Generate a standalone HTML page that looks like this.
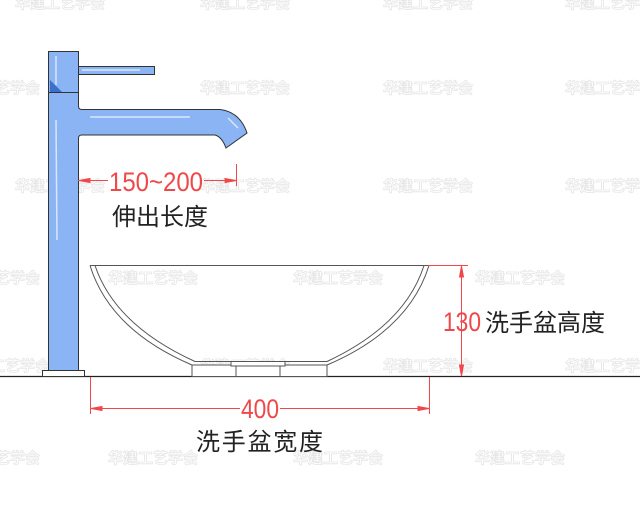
<!DOCTYPE html>
<html><head><meta charset="utf-8"><style>
html,body{margin:0;padding:0;background:#fff;}
svg{display:block}
.wm{font-family:"Noto Sans CJK SC",sans-serif;font-size:15px;font-weight:bold;fill:#fff;stroke:#e6e6e6;stroke-width:0.8}
.cn{font-family:"Liberation Sans","Noto Sans CJK SC",sans-serif;font-size:24px;fill:#222}
.num{font-family:"Liberation Sans",sans-serif;font-size:27px;fill:#f0474a}
</style></head><body>
<svg width="640" height="505" viewBox="0 0 640 505" xmlns="http://www.w3.org/2000/svg">
<g class="wm">
<text x="200" y="8">华建工艺学会</text><text x="383" y="8">华建工艺学会</text><text x="15" y="8">华建工艺学会</text><text x="565" y="8">华建工艺学会</text>
<text x="-50" y="93">华建工艺学会</text><text x="200" y="93">华建工艺学会</text><text x="383" y="93">华建工艺学会</text><text x="565" y="93">华建工艺学会</text>
<text x="15" y="191">华建工艺学会</text><text x="200" y="191">华建工艺学会</text><text x="383" y="191">华建工艺学会</text><text x="565" y="191">华建工艺学会</text>
<text x="-50" y="283">华建工艺学会</text><text x="108" y="283">华建工艺学会</text><text x="293" y="283">华建工艺学会</text><text x="475" y="283">华建工艺学会</text>
<text x="-40" y="371">华建工艺学会</text><text x="200" y="371">华建工艺学会</text><text x="383" y="371">华建工艺学会</text><text x="565" y="371">华建工艺学会</text>
<text x="-50" y="463">华建工艺学会</text><text x="108" y="463">华建工艺学会</text><text x="293" y="463">华建工艺学会</text><text x="475" y="463">华建工艺学会</text>
</g>
<line x1="0" y1="376.5" x2="640" y2="376.5" stroke="#222" stroke-width="1.3"/>
<g stroke="#333" stroke-width="1" fill="#8ab4f4">
<rect x="42.5" y="370.5" width="42" height="6" fill="#fff"/>
<rect x="78.5" y="66.5" width="76" height="8"/>
<path d="M48.5 92.5 V370.5 H78.5 V138 Q78.5 135 82 135 H215 Q222 137 226 148 L247 133 Q240 112 220 109.5 H82 Q78.5 109.5 78.5 106 V92.5 Z"/>
<rect x="48.5" y="51.5" width="30" height="41"/>
<path d="M50 80 L62 92 H50 Z" fill="#3b6fd0" stroke="none"/>
</g>
<g stroke="#d9e6fb" stroke-width="1.5" fill="none">
<line x1="56" y1="120" x2="57" y2="240"/><line x1="90" y1="117" x2="190" y2="117"/><line x1="56" y1="56" x2="56" y2="85"/><line x1="82" y1="70" x2="140" y2="70"/><line x1="228" y1="118" x2="238" y2="128"/>
</g>
<g stroke="#555" stroke-width="1" fill="none">
<line x1="90" y1="265.5" x2="429" y2="265.5"/>
<path d="M90 265.5 Q110 330 192 365"/>
<path d="M95 265.5 Q115 325 195 361.5 H327 Q405 325 424 265.5"/>
<path d="M429 265.5 Q409 330 327 365 H192"/>
<rect x="192" y="365" width="135" height="11.5" fill="#fff"/>
<rect x="231" y="361.5" width="54" height="4.5" fill="#fff"/>
<rect x="236" y="366" width="44" height="10.5" fill="#fff"/>
</g>
<g stroke="#f0474a" stroke-width="1" fill="#f0474a">
<line x1="78" y1="180.5" x2="108" y2="180.5"/><line x1="204" y1="180.5" x2="236" y2="180.5"/>
<line x1="236.5" y1="164" x2="236.5" y2="186"/>
<path d="M79 180.5 L90 178.5 V182.5 Z"/><path d="M236 180.5 L225 178.5 V182.5 Z"/>
<line x1="428" y1="265.5" x2="468" y2="265.5"/>
<line x1="461.5" y1="265" x2="461.5" y2="376"/>
<path d="M461.5 266 L459.5 277 H463.5 Z"/><path d="M461.5 376 L459.5 365 H463.5 Z"/>
<line x1="90.5" y1="377" x2="90.5" y2="414"/><line x1="429.5" y1="377" x2="429.5" y2="414"/>
<line x1="90" y1="408.5" x2="240" y2="408.5"/><line x1="280" y1="408.5" x2="430" y2="408.5"/>
<path d="M91 408.5 L102 406.5 V410.5 Z"/><path d="M429 408.5 L418 406.5 V410.5 Z"/>
</g>
<text class="num" x="109" y="191" textLength="94" lengthAdjust="spacingAndGlyphs">150~200</text>
<text class="num" x="241" y="418" textLength="38" lengthAdjust="spacingAndGlyphs">400</text>
<text class="num" x="443" y="331" textLength="38" lengthAdjust="spacingAndGlyphs">130</text>
<text class="cn" x="112" y="225">伸出长度</text>
<text class="cn" x="485" y="331">洗手盆高度</text>
<text class="cn" x="196" y="450" textLength="127">洗手盆宽度</text>
</svg>
</body></html>
